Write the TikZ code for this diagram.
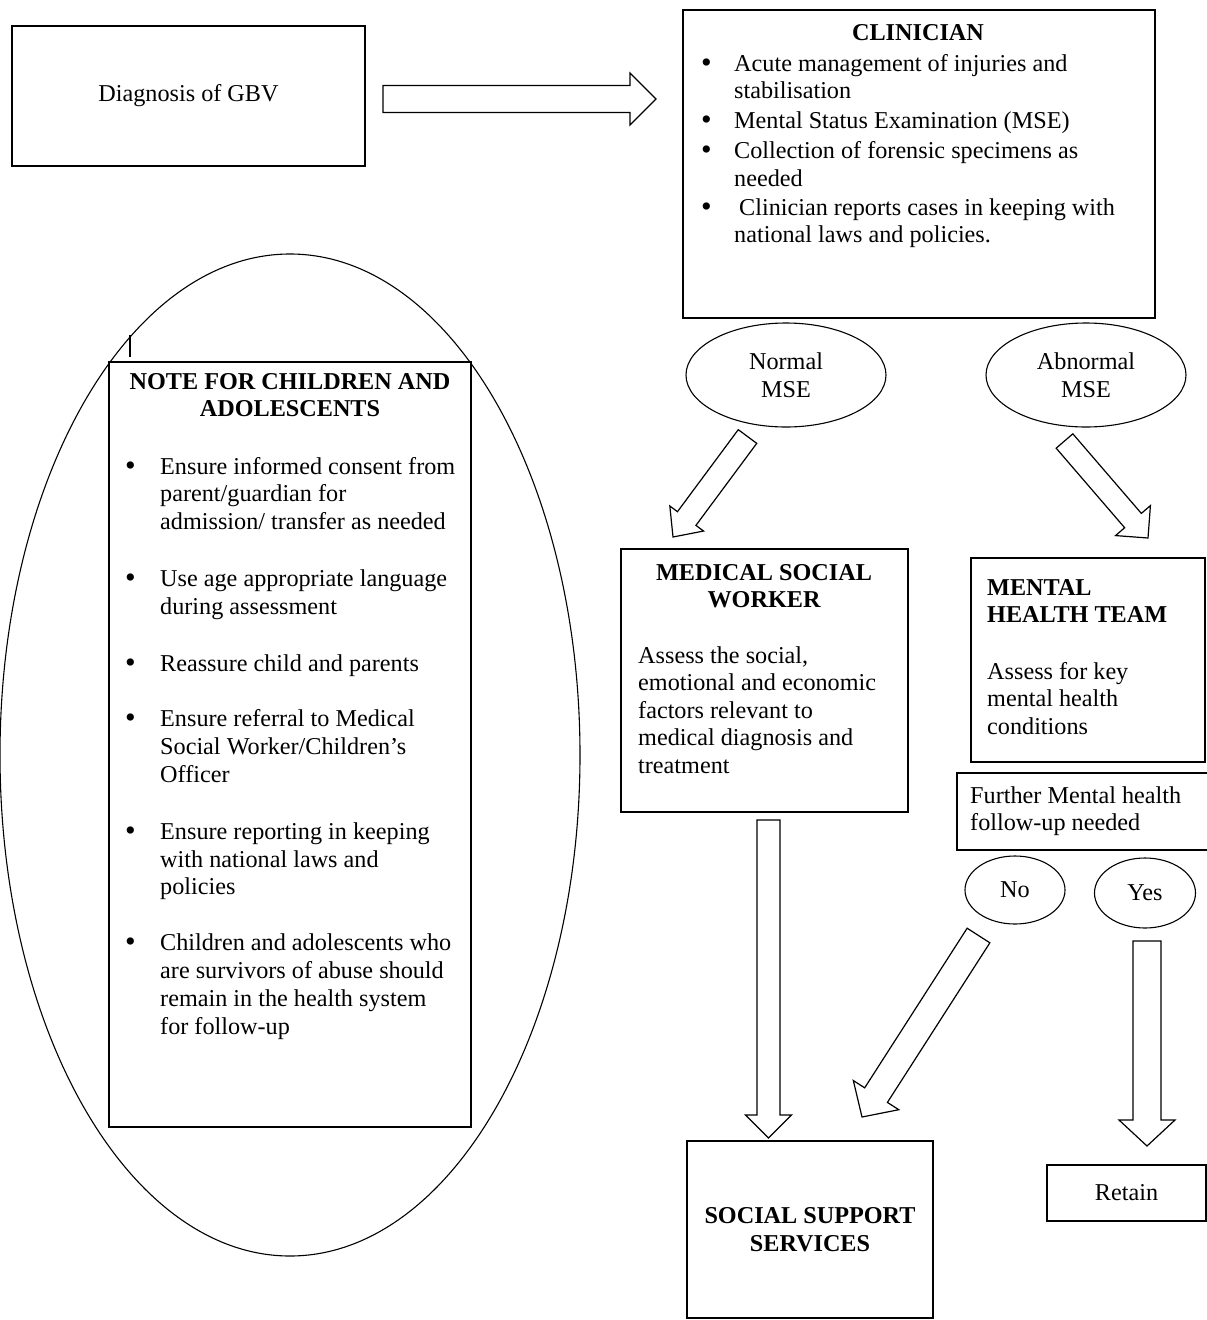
\documentclass[tikz,border=0pt]{standalone}
\usepackage{fontspec}
\setmainfont{Liberation Serif}
\usetikzlibrary{calc,shapes.geometric}

\newcommand\fs{\fontsize{24.2}{27.6}\selectfont}
\newlength\bulw
% top-aligned ragged-right text block whose baseline is its first line
\newcommand\ptext[2]{\parbox[t]{#1}{\fs\rightskip=0pt plus 1fil\relax #2}}
% bulleted paragraph with hanging indent
\newcommand\bitm{\par\hangindent=\bulw\hangafter=1\noindent\makebox[\bulw][l]{\raisebox{-1pt}{\scalebox{1.25}{\textbullet}}}}
% hollow block arrow: tail, tip, shaft half width, head half width, head length
\newcommand\blockarr[5]{%
  \coordinate (ba-n) at ($(#2)!#5!(#1)$);
  \draw[arrowline] ($(#1)!#3!90:(#2)$) -- ($(ba-n)!#3!90:(#2)$) -- ($(ba-n)!#4!90:(#2)$)
    -- (#2) -- ($(ba-n)!#4!-90:(#2)$) -- ($(ba-n)!#3!-90:(#2)$) -- ($(#1)!#3!-90:(#2)$) -- cycle;}

\tikzset{
  box/.style={draw, line width=1.1pt, inner sep=0pt, font=\fs},
  oval/.style={draw, ellipse, line width=1.1pt, inner sep=0pt, font=\fs, align=center},
  txt/.style={inner sep=0pt, anchor=base west, font=\fs},
  ttl/.style={inner sep=0pt, align=center, font=\fs\bfseries},
  arrowline/.style={draw, line width=1.2pt, line join=miter, fill=white}
}

\begin{document}
\begin{tikzpicture}[x=1pt,y=-1pt]
\useasboundingbox (0,0) rectangle (1207,1320);
\clip (0,0) rectangle (1207,1320);
\fill[white] (0,0) rectangle (1207,1320);

% diagnosis and clinician
\node[box, minimum width=353pt, minimum height=140pt] (diag) at (188.5,96) {Diagnosis of GBV};
\node[box, minimum width=472pt, minimum height=308pt] (clin) at (919,164) {};
\node[ttl] (clint) at (918,33) {CLINICIAN};
\node[txt] (clinl) at (701,71) {\ptext{450pt}{\setlength\bulw{33pt}%
\bitm Acute management of injuries and\\stabilisation\par\vspace{2pt}%
\bitm Mental Status Examination (MSE)\par\vspace{3pt}%
\bitm Collection of forensic specimens as\\needed\par\vspace{1pt}%
\bitm \hspace{5pt}Clinician reports cases in keeping with\\national laws and policies.\par}};

% children and adolescents note
\node[draw, ellipse, line width=1.1pt, inner sep=0pt, minimum width=580pt, minimum height=1002pt] (note) at (290,755) {};
\coordinate (tk1) at (130,335);
\coordinate (tk2) at (130,357);
\draw[line width=1.1pt] (tk1) -- (tk2);
\node[box, minimum width=362pt, minimum height=765pt, fill=white] (nbox) at (290,744.5) {};
\node[ttl] (nttl) at (290,395) {NOTE FOR CHILDREN AND\\ADOLESCENTS};
\node[txt] (nlist) at (125,474) {\ptext{345pt}{\baselineskip=27.8pt\setlength\bulw{35pt}%
\bitm Ensure informed consent from\\parent/guardian for\\admission/ transfer as needed\par\vspace{29pt}%
\bitm Use age appropriate language\\during assessment\par\vspace{29pt}%
\bitm Reassure child and parents\par\vspace{28pt}%
\bitm Ensure referral to Medical\\Social Worker/Children’s\\Officer\par\vspace{29pt}%
\bitm Ensure reporting in keeping\\with national laws and\\policies\par\vspace{28pt}%
\bitm Children and adolescents who\\are survivors of abuse should\\remain in the health system\\for follow-up\par}};

% MSE outcomes
\node[oval, minimum width=200pt, minimum height=104pt] (norm) at (786,375) {Normal\\MSE};
\node[oval, minimum width=200pt, minimum height=104pt] (abn) at (1086,375) {Abnormal\\MSE};

% medical social worker
\node[box, minimum width=287pt, minimum height=263pt] (msw) at (764.5,680.5) {};
\node[ttl] (mswt) at (764,586) {MEDICAL SOCIAL\\WORKER};
\node[txt] (mswb) at (638,663) {\ptext{265pt}{Assess the social,\\emotional and economic\\factors relevant to\\medical diagnosis and\\treatment}};

% mental health team
\node[box, minimum width=234pt, minimum height=204pt] (mht) at (1088,660) {};
\node[txt, font=\fs\bfseries] (mhtt) at (987,595) {\ptext{210pt}{MENTAL\\HEALTH TEAM}};
\node[txt] (mhtb) at (987,679) {\ptext{210pt}{Assess for key\\mental health\\conditions}};

% follow-up decision
\node[box, minimum width=260pt, minimum height=77pt] (fup) at (1087,811.5) {};
\node[txt] (fupt) at (970,803) {\ptext{230pt}{Further Mental health\\follow-up needed}};
\node[oval, minimum width=100pt, minimum height=68pt] (no) at (1015,890) {No};
\node[oval, minimum width=101pt, minimum height=70pt] (yes) at (1145,893) {Yes};

% end points
\node[box, minimum width=246pt, minimum height=177pt, align=center, font=\fs\bfseries] (sss) at (810,1229.5) {SOCIAL SUPPORT\\SERVICES};
\node[box, minimum width=159pt, minimum height=56pt] (ret) at (1126.5,1193) {Retain};

% block arrows
\coordinate (a1s) at (383,99);    \coordinate (a1e) at (656,99);
\coordinate (a2s) at (747.5,436.5); \coordinate (a2e) at (673,537);
\coordinate (a3s) at (1064.5,441); \coordinate (a3e) at (1148,538);
\coordinate (a4s) at (768.5,820);  \coordinate (a4e) at (768.5,1138);
\coordinate (a5s) at (978.5,935.5); \coordinate (a5e) at (862,1117);
\coordinate (a6s) at (1147,941);   \coordinate (a6e) at (1147,1146);
\blockarr{a1s}{a1e}{13.5pt}{26pt}{26pt}
\blockarr{a2s}{a2e}{11.5pt}{21pt}{23pt}
\blockarr{a3s}{a3e}{11pt}{23pt}{23pt}
\blockarr{a4s}{a4e}{11.5pt}{23pt}{23pt}
\blockarr{a5s}{a5e}{13.5pt}{27pt}{26pt}
\blockarr{a6s}{a6e}{14pt}{28pt}{26pt}
\end{tikzpicture}
\end{document}
